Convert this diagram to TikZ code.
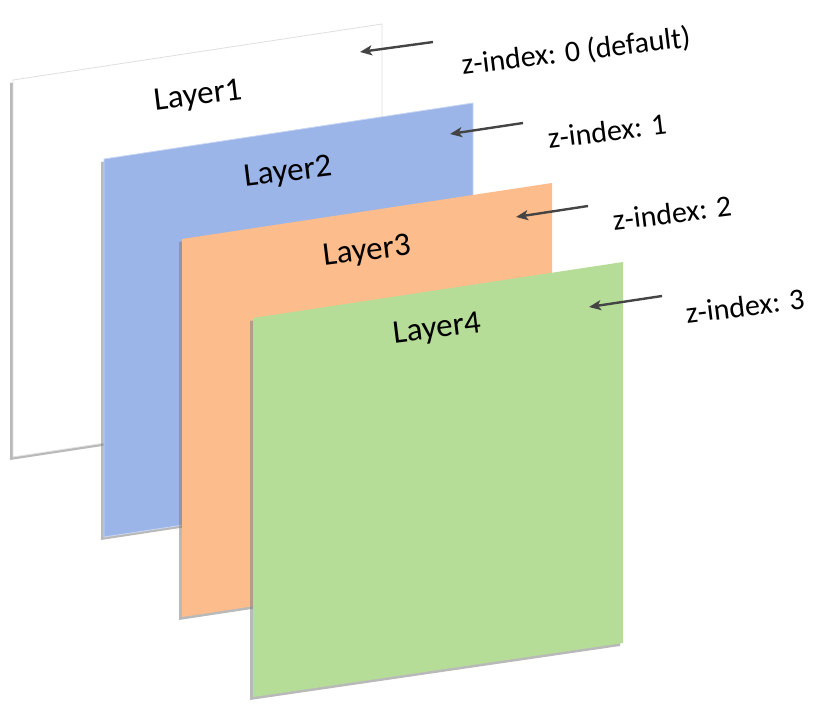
\documentclass[tikz,border=0pt]{standalone}
\usepackage{fontspec}
\setmainfont{Carlito}
\usetikzlibrary{arrows.meta,shadows}
\definecolor{layerblue}{RGB}{155,181,233}
\definecolor{layerorange}{RGB}{253,188,139}
\definecolor{layergreen}{RGB}{181,221,152}
\definecolor{pointergray}{RGB}{68,68,68}

\begin{document}
\begin{tikzpicture}[x=1pt, y=-1pt, >={Stealth[length=12pt,width=10pt,inset=3pt]},
    layer/.style={line width=0.8pt,
      drop shadow={shadow xshift=-3pt, shadow yshift=-3pt, opacity=0.55}},
    lbl/.style={font=\fontsize{33}{40}\selectfont, rotate=7},
    zlbl/.style={font=\fontsize{30}{36}\selectfont, rotate=7},
    pointer/.style={->, line width=2.4pt, draw=pointergray, fill=pointergray}]
  \useasboundingbox (0,0) rectangle (822,714);
  % layers, back to front
  \filldraw[layer, draw=gray!25, fill=white] (13,80) -- (382,24) -- (382,401) -- (13,457) -- cycle;
  \filldraw[layer, draw=layerblue!55!white, fill=layerblue] (104,159) -- (473,103) -- (473,481) -- (104,537) -- cycle;
  \fill[layer, fill=layerorange] (182,239) -- (552,183) -- (552,561) -- (182,617) -- cycle;
  \fill[layer, fill=layergreen] (253,318) -- (623,262) -- (623,643) -- (253,697) -- cycle;

  \node[lbl] (l1) at (198,97)  {Layer1};
  \node[lbl] (l2) at (288,173) {Layer2};
  \node[lbl] (l3) at (367,252) {Layer3};
  \node[lbl] (l4) at (437,330) {Layer4};

  \node[zlbl] (z0) at (576,52)  {z-index: 0 (default)};
  \node[zlbl] (z1) at (607,131) {z-index: 1};
  \node[zlbl] (z2) at (672,213) {z-index: 2};
  \node[zlbl] (z3) at (745,306) {z-index: 3};

  \coordinate (t0) at (433,42);  \coordinate (h0) at (360,52);
  \coordinate (t1) at (523,123); \coordinate (h1) at (450,134);
  \coordinate (t2) at (588,206); \coordinate (h2) at (516,217);
  \coordinate (t3) at (662,296); \coordinate (h3) at (589,307);
  \draw[pointer] (t0)--(h0);  \draw[pointer] (t1)--(h1);
  \draw[pointer] (t2)--(h2);  \draw[pointer] (t3)--(h3);
\end{tikzpicture}
\end{document}
